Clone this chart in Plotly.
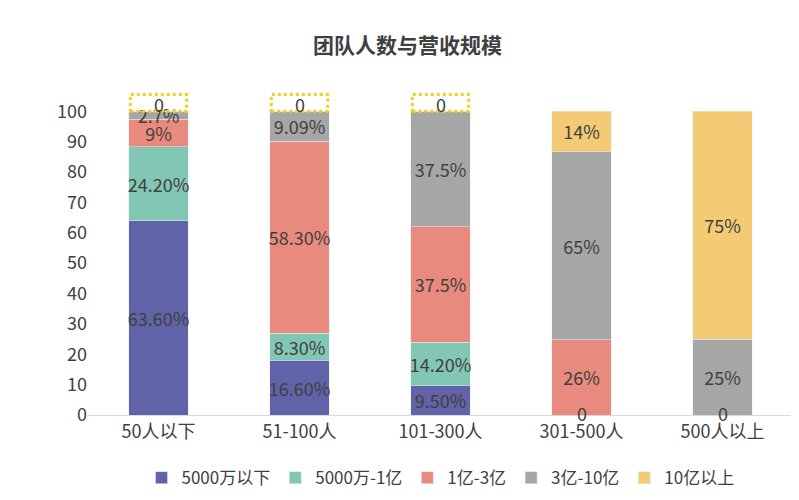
import plotly.graph_objects as go

categories = ["50人以下", "51-100人", "101-300人", "301-500人", "500人以上"]
series_names = ["5000万以下", "5000万-1亿", "1亿-3亿", "3亿-10亿", "10亿以上"]
values = [
    [63.6, 16.6, 9.5, 0, 0],
    [24.2, 8.3, 14.2, 0, 0],
    [9, 58.3, 37.5, 26, 0],
    [2.7, 9.09, 37.5, 65, 25],
    [0, 0, 0, 14, 75],
]
labels = [
    ["63.60%", "16.60%", "9.50%", "0", "0"],
    ["24.20%", "8.30%", "14.20%", "", ""],
    ["9%", "58.30%", "37.5%", "26%", ""],
    ["2.7%", "9.09%", "37.5%", "65%", "25%"],
    ["0", "0", "0", "14%", "75%"],
]
colors = ["#6163A8", "#82C7B3", "#E88A7D", "#A6A6A6", "#F2CB74"]

fig = go.Figure()
for name, v, t, c in zip(series_names, values, labels, colors):
    fig.add_trace(go.Bar(x=categories, y=v, name=name, marker_color=c,
                         text=[s if val > 0 else "" for s, val in zip(t, v)],
                         textposition="inside", insidetextanchor="middle",
                         constraintext="none",
                         textfont=dict(size=18, color="#404040"), textangle=0))

for i, cat in enumerate(categories):
    if values[4][i] == 0:
        fig.add_annotation(x=cat, y=102.5, text="0", showarrow=False,
                           font=dict(size=18, color="#404040"))
        fig.add_shape(type="rect", xref="x", yref="y", x0=i - 0.2, x1=i + 0.2, y0=100, y1=105.5,
                      line=dict(color="#F0D020", width=3, dash="dot"))
    if values[0][i] == 0:
        fig.add_annotation(x=cat, y=0, text="0", showarrow=False, yshift=2,
                           font=dict(size=18, color="#404040"))

fig.update_layout(
    barmode="stack", barnorm="percent", bargap=0.58,
    width=799, height=500, plot_bgcolor="white", paper_bgcolor="white",
    title=dict(text="<b>团队人数与营收规模</b>", x=0.5, y=0.94, font=dict(size=21, color="#404040")),
    font=dict(family="Noto Sans CJK SC", color="#404040"),
    margin=dict(l=80, r=14, t=85, b=93),
    legend=dict(orientation="h", x=0.5, xanchor="center", y=-0.14, font=dict(size=17), traceorder="normal"),
)
fig.update_yaxes(range=[0, 106], tickvals=list(range(0, 101, 10)), ticksuffix="%", showgrid=False,
                 tickfont=dict(size=18), zeroline=False)
fig.update_xaxes(tickfont=dict(size=18), showline=True, linecolor="#D9D9D9")
fig.write_html("out.html")
